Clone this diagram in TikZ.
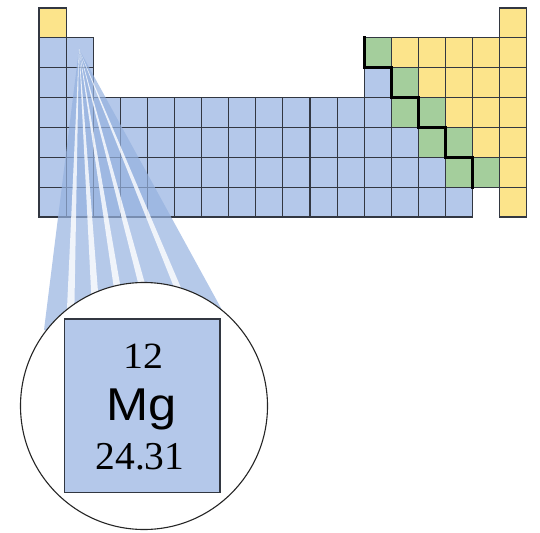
\documentclass[tikz,border=0pt]{standalone}
\usepackage{fontspec}
\setmainfont{Liberation Serif}
\newfontfamily\symbolfont{Liberation Sans}

\definecolor{cellblue}{RGB}{180,200,234}
\definecolor{cellyellow}{RGB}{252,228,139}
\definecolor{cellgreen}{RGB}{164,206,156}
\definecolor{gridline}{RGB}{50,55,65}
\definecolor{fanblue}{RGB}{150,178,224}

% one cell of the table: column, row, fill colour
\newcommand\pcell[3]{%
  \path[cellbox,fill=#3] ({39+(#1-1)*27.1},{8+(#2-1)*29.85}) rectangle ++(27.1,29.85);}

\tikzset{
  cellbox/.style={draw=gridline,line width=1.1pt},
  stair/.style={draw=black,line width=3pt,line join=miter,line cap=rect},
  fanband/.style={fill=fanblue,fill opacity=0.7},
  fangap/.style={fill=white,fill opacity=0.8},
  lens/.style={draw=black!85,line width=1.1pt,fill=white},
  bigcell/.style={draw=gridline,line width=1.1pt,fill=cellblue},
}

\begin{document}
\begin{tikzpicture}[x=1pt,y=-1pt]
\useasboundingbox (0,0) rectangle (540,532);

% row 1
\pcell{1}{1}{cellyellow}
\pcell{18}{1}{cellyellow}
% row 2
\foreach \c in {1,2} {\pcell{\c}{2}{cellblue}}
\pcell{13}{2}{cellgreen}
\foreach \c in {14,...,18} {\pcell{\c}{2}{cellyellow}}
% row 3
\foreach \c in {1,2,13} {\pcell{\c}{3}{cellblue}}
\pcell{14}{3}{cellgreen}
\foreach \c in {15,...,18} {\pcell{\c}{3}{cellyellow}}
% row 4
\foreach \c in {1,...,13} {\pcell{\c}{4}{cellblue}}
\foreach \c in {14,15} {\pcell{\c}{4}{cellgreen}}
\foreach \c in {16,17,18} {\pcell{\c}{4}{cellyellow}}
% row 5
\foreach \c in {1,...,14} {\pcell{\c}{5}{cellblue}}
\foreach \c in {15,16} {\pcell{\c}{5}{cellgreen}}
\foreach \c in {17,18} {\pcell{\c}{5}{cellyellow}}
% row 6
\foreach \c in {1,...,15} {\pcell{\c}{6}{cellblue}}
\foreach \c in {16,17} {\pcell{\c}{6}{cellgreen}}
\pcell{18}{6}{cellyellow}
% row 7
\foreach \c in {1,...,16} {\pcell{\c}{7}{cellblue}}
\pcell{18}{7}{cellyellow}

% metal / non-metal staircase
\draw[stair] (364.2,37.85) -- (364.2,67.7) -- (391.3,67.7) -- (391.3,97.55)
  -- (418.4,97.55) -- (418.4,127.4) -- (445.5,127.4) -- (445.5,157.25)
  -- (472.6,157.25) -- (472.6,187.1);

% fan of rays from the Mg cell down to the magnifier
\coordinate (apex) at (79,49);
\path[fanband] (apex) -- (44,330) -- (233,330) -- cycle;
\foreach \xc in {70,97,124,154,195} {
  \path[fangap] (apex) -- (\xc-4,330) -- (\xc+4,330) -- cycle;
}

% magnifier
\path[lens] (144,406) circle[radius=123.5pt];
\path[bigcell] (64.3,319) rectangle (220,492.7);

\node[anchor=base,inner sep=0pt,font=\fontsize{37}{40}\selectfont] (anum) at (143,368.3)
  {\scalebox{1.08}[1]{12}};
\node[anchor=base,inner sep=0pt,font=\symbolfont\fontsize{46}{50}\selectfont] (sym) at (141.5,420.7)
  {\scalebox{1.1}[1]{Mg}};
\node[anchor=base,inner sep=0pt,font=\fontsize{39.5}{42}\selectfont] (amass) at (140,469)
  {24.31};
\end{tikzpicture}
\end{document}
